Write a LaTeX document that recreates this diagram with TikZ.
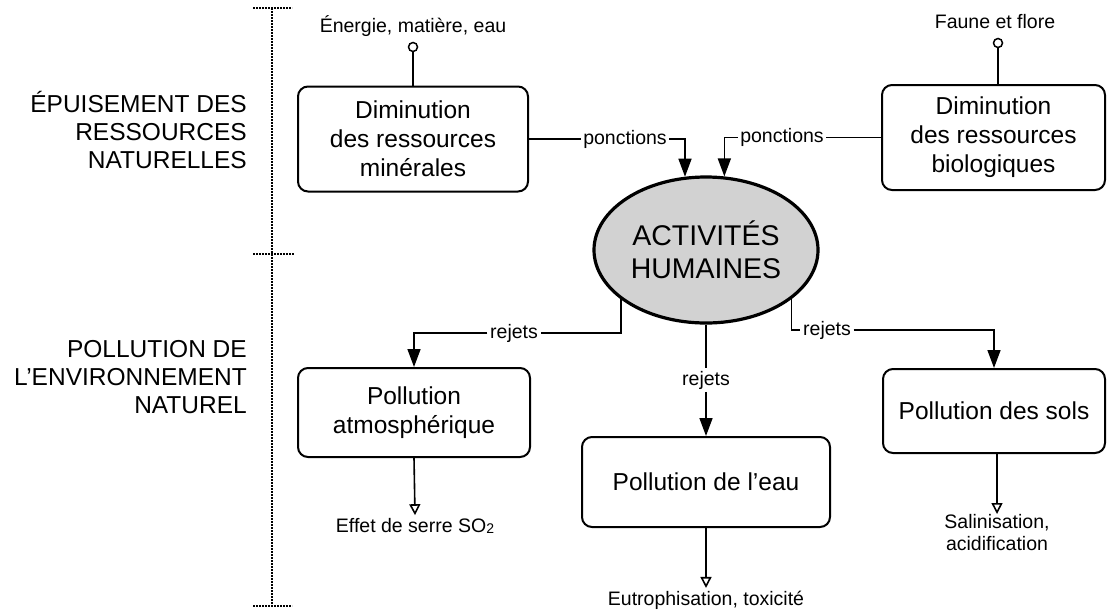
\documentclass[tikz,border=0pt]{standalone}
\usepackage{fontspec}
\setmainfont{Liberation Sans}
\usetikzlibrary{arrows.meta,shapes.geometric}

\begin{document}
\begin{tikzpicture}[x=1pt,y=-1pt,
  box/.style={draw, line width=2pt, rounded corners=10pt, align=center,
    inner sep=0pt, font=\fontsize{24.5}{29}\selectfont},
  lbl/.style={inner sep=2.5pt, font=\fontsize{19.5}{22}\selectfont},
  cat/.style={anchor=east, align=right, inner sep=0pt,
    font=\fontsize{24.5}{28}\selectfont},
  conn/.style={line width=1.6pt},
  fillarrow/.style={-{Triangle[length=18pt,width=13pt]}},
  openarrow/.style={-{Triangle[open,length=11pt,width=11pt]}},
  guide/.style={line width=2.4pt, dash pattern=on 1.6pt off 1.4pt},
  knob/.style={circle, draw, line width=1.5pt, minimum size=9pt, inner sep=0pt, fill=white},
]
\useasboundingbox (0,0) rectangle (1107,611);

% section guide on the left
\coordinate (gt) at (272,8);
\coordinate (gm) at (272,254);
\coordinate (gb) at (272,606);
\draw[guide] (gt) -- (gb);
\draw[guide] (253,8) -- (292,8);
\draw[guide] (253,254) -- (294,254);
\draw[guide] (253,606) -- (292,606);

\node[cat] (cat1) at (247,130) {ÉPUISEMENT DES\\RESSOURCES\\NATURELLES};
\node[cat] (cat2) at (247,377) {POLLUTION DE\\L'ENVIRONNEMENT\\NATUREL};

% central activity
\node[ellipse, draw, line width=3.2pt, fill=gray!35, minimum width=224pt,
  minimum height=146pt, inner sep=0pt, align=center,
  font=\fontsize{28.5}{33}\selectfont] (act) at (706,250) {ACTIVITÉS\\HUMAINES};

% resource boxes
\node[box, minimum width=230pt, minimum height=105pt] (mine) at (413,139) {Diminution\\des ressources\\minérales};
\node[box, minimum width=223pt, minimum height=105pt] (bio) at (993.5,137.5) {Diminution\\des ressources\\biologiques};

\node[lbl, anchor=base] (src1) at (413,32) {Énergie, matière, eau};
\node[knob] (k1) at (413,47) {};
\draw[conn] (k1.south) -- (mine.north);

\node[lbl, anchor=base] (src2) at (995,28) {Faune et flore};
\node[knob] (k2) at (998,43) {};
\draw[conn] (k2.south) -- (k2.south |- bio.north);

% withdrawals
\node[lbl] (pl) at (625,139) {ponctions};
\node[lbl] (pr) at (782,137.5) {ponctions};
\draw[conn] (mine.east) -- (pl.west);
\draw[conn, fillarrow] (pl.east) -| (act.106);
\draw[conn] (bio.west) -- (pr.east);
\draw[conn, fillarrow] (pr.west) -| (act.76);

% pollution boxes
\node[box, minimum width=232pt, minimum height=89pt] (atm) at (414,412.5) {Pollution\\atmosphérique};
\node[box, minimum width=248pt, minimum height=90pt] (eau) at (706,482) {Pollution de l'eau};
\node[box, minimum width=222pt, minimum height=84pt] (sol) at (994,411) {Pollution des sols};

% discharges
\node[lbl] (rl) at (514,333) {rejets};
\node[lbl] (rm) at (706,380) {rejets};
\node[lbl] (rr) at (827,330) {rejets};
\draw[conn] (act.210) |- (rl.east);
\draw[conn, fillarrow] (rl.west) -| (atm.north);
\draw[conn] (act.south) -- (rm.north);
\draw[conn, fillarrow] (rm.south) -- (eau.north);
\draw[conn] (act.330) |- (rr.west);
\draw[conn, fillarrow] (rr.east) -| (sol.north);

% consequences
\node[lbl, anchor=base] (e1) at (415,532) {Effet de serre SO\raisebox{-1.5pt}{\fontsize{14}{14}\selectfont 2}};
\node[lbl, anchor=base] (e2) at (706,605) {Eutrophisation, toxicité};
\node[lbl, anchor=north, inner sep=0pt, align=center] (e3) at (997,514) {Salinisation,\\acidification};
\draw[conn, openarrow] (atm.south) -- (e1.north);
\draw[conn, openarrow] (eau.south) -- (e2.north);
\draw[conn, openarrow] (sol.south -| e3.north) -- (e3.north);
\end{tikzpicture}
\end{document}
